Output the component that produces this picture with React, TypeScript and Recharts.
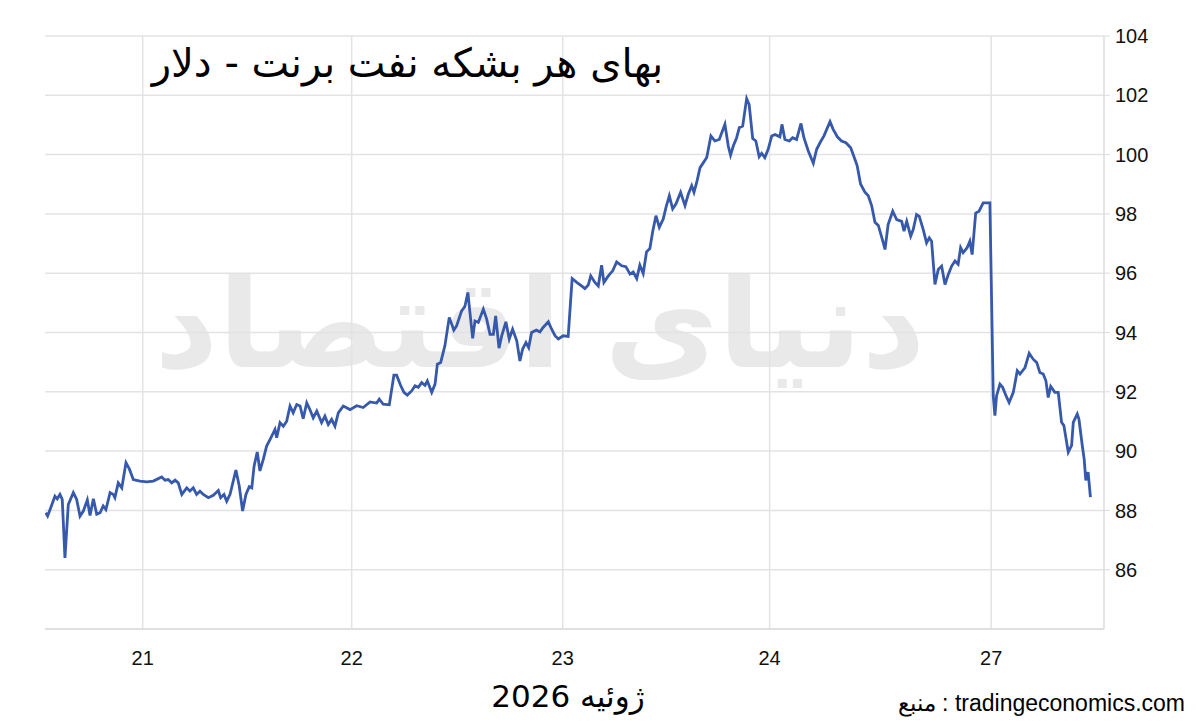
import React from 'react';
import { LineChart, Line, XAxis, YAxis, CartesianGrid, ReferenceLine } from 'recharts';

// time: trading-day position (0 = start of 21st), price: Brent USD/bbl
const time = [
  -0.464, -0.455, -0.44, -0.42, -0.409, -0.396, -0.385, -0.372, -0.356, -0.332, -0.316, -0.3, -0.284, -0.265,
  -0.252, -0.236, -0.22, -0.204, -0.189, -0.176, -0.156, -0.141, -0.133, -0.117, -0.1, -0.08, -0.064, -0.045,
  -0.013, 0.019, 0.051, 0.091, 0.107, 0.122, 0.139, 0.155, 0.17, 0.187, 0.211, 0.226, 0.242, 0.258, 0.274,
  0.29, 0.314, 0.338, 0.362, 0.373, 0.389, 0.402, 0.418, 0.446, 0.462, 0.478, 0.494, 0.51, 0.522, 0.533,
  0.548, 0.561, 0.577, 0.593, 0.609, 0.633, 0.641, 0.657, 0.673, 0.689, 0.705, 0.72, 0.737, 0.753, 0.768,
  0.785, 0.8, 0.816, 0.833, 0.856, 0.872, 0.888, 0.904, 0.92, 0.936, 0.96, 0.992,
  1.024, 1.055, 1.088, 1.12, 1.132, 1.151, 1.18, 1.202, 1.215, 1.234, 1.25, 1.266, 1.287, 1.303, 1.319,
  1.335, 1.351, 1.362, 1.383, 1.399, 1.41, 1.426, 1.446, 1.467, 1.489, 1.502, 1.526, 1.542, 1.556, 1.566,
  1.579, 1.59, 1.606, 1.63, 1.646, 1.662, 1.678, 1.689, 1.705, 1.718, 1.738, 1.754, 1.77, 1.79, 1.805,
  1.818, 1.834, 1.847, 1.861, 1.884, 1.901, 1.916, 1.941, 1.957, 1.973, 1.989,
  2.012, 2.036, 2.055, 2.077, 2.1, 2.116, 2.132, 2.144, 2.164, 2.18, 2.196, 2.207, 2.228, 2.249, 2.268,
  2.292, 2.312, 2.332, 2.347, 2.364, 2.379, 2.395, 2.411, 2.427, 2.44, 2.456, 2.472, 2.491, 2.504, 2.52,
  2.536, 2.552, 2.574, 2.595, 2.611, 2.627, 2.638, 2.651, 2.667, 2.683, 2.699, 2.719, 2.738, 2.759, 2.786,
  2.802, 2.813, 2.826, 2.842, 2.855, 2.871, 2.89, 2.902, 2.919, 2.934, 2.95, 2.962, 2.977, 2.993,
  3.01, 3.026, 3.049, 3.059, 3.073, 3.094, 3.11, 3.129, 3.15, 3.164, 3.185, 3.209, 3.225, 3.241, 3.26,
  3.289, 3.304, 3.324, 3.344, 3.365, 3.388, 3.408, 3.419, 3.435, 3.456, 3.472, 3.488, 3.504, 3.52, 3.544,
  3.552, 3.567, 3.589, 3.608, 3.632, 3.643, 3.656, 3.675, 3.687, 3.703, 3.716, 3.735, 3.751, 3.764, 3.775,
  3.791, 3.807, 3.823, 3.839, 3.855, 3.871, 3.887, 3.902, 3.914, 3.926, 3.945, 3.958, 3.969, 3.986,
  4.002, 4.022, 4.054, 4.07, 4.078, 4.086, 4.102, 4.115, 4.131, 4.146, 4.166, 4.185, 4.198, 4.222, 4.242,
  4.261, 4.278, 4.293, 4.309, 4.322, 4.333, 4.345, 4.365, 4.381, 4.397, 4.408, 4.429, 4.445, 4.453, 4.472,
  4.48, 4.496, 4.505, 4.513, 4.524, 4.535,
];

const price = [
  87.92, 87.81, 88.09, 88.48, 88.39, 88.54, 88.37, 86.4, 88.2, 88.6, 88.37, 87.81, 87.98, 88.35,
  87.83, 88.39, 87.87, 87.92, 88.15, 88.03, 88.6, 88.54, 88.43, 88.93, 88.76, 89.61, 89.4, 89.04,
  88.99, 88.96, 88.99, 89.13, 89.02, 89.04, 88.93, 89.02, 88.93, 88.54, 88.76, 88.65, 88.76, 88.54, 88.65,
  88.54, 88.43, 88.51, 88.67, 88.43, 88.54, 88.31, 88.54, 89.36, 88.82, 87.98, 88.54, 88.8, 88.76, 89.49,
  89.97, 89.33, 89.72, 90.17, 90.39, 90.73, 90.45, 90.96, 90.84, 91.01, 91.52, 91.29, 91.57, 91.52, 91.09,
  91.63, 91.4, 91.12, 91.35, 90.96, 91.18, 90.9, 91.07, 90.84, 91.29, 91.52, 91.4,
  91.53, 91.47, 91.66, 91.62, 91.75, 91.58, 91.56, 92.56, 92.56, 92.22, 91.98, 91.89, 92.03, 92.2, 92.15,
  92.31, 92.22, 92.37, 91.98, 92.26, 92.93, 92.99, 93.55, 94.51, 94.08, 94.22, 94.73, 94.88, 95.35, 94.67,
  93.8, 94.39, 94.34, 94.79, 94.45, 93.94, 93.94, 94.56, 93.47, 93.89, 94.36, 93.78, 94.11, 93.72, 93.04,
  93.44, 93.66, 93.49, 94.0, 94.08, 94.02, 94.17, 94.36, 94.11, 93.89, 93.78,
  93.89, 93.87, 95.82, 95.69, 95.57, 95.48, 95.6, 95.91, 95.69, 95.57, 96.27, 95.69, 95.91, 96.08, 96.38,
  96.25, 96.22, 95.97, 96.04, 95.82, 96.27, 95.99, 96.72, 96.83, 97.39, 97.94, 97.55, 97.83, 98.22, 98.61,
  98.17, 98.34, 98.73, 98.28, 98.67, 98.95, 98.73, 99.06, 99.56, 99.73, 99.9, 100.63, 100.46, 100.51, 101.02,
  100.29, 99.98, 100.29, 100.57, 100.91, 100.96, 101.89, 101.69, 100.54, 100.46, 99.93, 100.04, 99.9, 100.18,
  100.63, 100.68, 100.6, 101.02, 100.51, 100.46, 100.57, 100.51, 101.05, 100.57, 100.12, 99.71, 100.18, 100.4, 100.63,
  101.11, 100.85, 100.6, 100.46, 100.4, 100.23, 99.84, 99.62, 99.01, 98.73, 98.61, 98.28, 97.72, 97.61, 97.02,
  96.8, 97.64, 98.09, 97.81, 97.75, 97.42, 97.75, 97.25, 97.47, 97.98, 97.92, 97.47, 97.02, 97.19, 97.08,
  95.62, 96.13, 96.24, 95.62, 95.96, 96.24, 96.41, 96.3, 96.86, 96.69, 96.86, 97.08, 96.63, 98.03,
  98.09, 98.37, 98.37, 91.87, 91.2, 91.87, 92.26, 92.15, 91.87, 91.64, 91.98, 92.71, 92.6, 92.82, 93.3,
  93.1, 92.99, 92.65, 92.6, 92.37, 91.81, 92.18, 91.98, 91.98, 90.97, 90.86, 89.96, 90.19, 90.97, 91.25,
  91.08, 90.19, 89.74, 89.01, 89.29, 88.45,
];

const dayTicks = [0, 1, 2.01, 3, 4.06];
const dayLabels = ['21', '22', '23', '24', '27'];
const priceTicks = [86, 88, 90, 92, 94, 96, 98, 100, 102, 104];

const title = 'بهای هر بشکه نفت برنت - دلار';
const monthLabel = 'ژوئیه 2026';
const sourceLabel = 'منبع : tradingeconomics.com';
const watermark = 'دنیای اقتصاد';

const data = time.map((t, i) => ({ t, price: price[i] }));

const gridColor = '#e3e3e3';
const lineColor = '#3659ab';
const latin = '"Liberation Sans", Arial, sans-serif';
const arabic = '"DejaVu Sans", sans-serif';

export default function App() {
  return (
    <div style={{ position: 'absolute', left: 0, top: 0, width: 1200, height: 724, background: '#fff', overflow: 'hidden' }}>
      <div
        style={{
          position: 'absolute', left: 140, top: 250, width: 800, textAlign: 'center', direction: 'rtl',
          fontFamily: arabic, fontWeight: 'bold', fontSize: 124, color: '#e9e9e9', whiteSpace: 'nowrap', lineHeight: 1.2,
        }}
      >
        {watermark}
      </div>
      <div style={{ position: 'absolute', left: 0, top: 0 }}>
        <LineChart width={1200} height={724} data={data} margin={{ top: 36, right: 10, bottom: 55, left: 45 }}>
          <CartesianGrid stroke={gridColor} strokeWidth={1.5} vertical={false} horizontal />
          {dayTicks.map((d) => (
            <ReferenceLine key={d} x={d} stroke={gridColor} strokeWidth={1.5} />
          ))}
          <XAxis
            dataKey="t"
            type="number"
            domain={[-0.4675, 4.6]}
            ticks={dayTicks}
            tickFormatter={(v: number) => dayLabels[dayTicks.indexOf(v)] ?? ''}
            height={40}
            axisLine={{ stroke: '#dcdcdc', strokeWidth: 1.5 }}
            tickLine={false}
            tickMargin={16}
            tick={{ fill: '#111', fontSize: 20, fontFamily: latin }}
            allowDataOverflow
          />
          <YAxis
            orientation="right"
            type="number"
            domain={[84, 104]}
            ticks={priceTicks}
            width={86}
            axisLine={{ stroke: '#dcdcdc', strokeWidth: 1.5 }}
            tickLine={{ stroke: '#dcdcdc' }}
            tickSize={6}
            tickMargin={5}
            tick={{ fill: '#111', fontSize: 20, fontFamily: latin, textAnchor: 'start' }}
            allowDataOverflow
          />
          <Line
            type="linear"
            dataKey="price"
            stroke={lineColor}
            strokeWidth={2.8}
            dot={false}
            isAnimationActive={false}
          />
        </LineChart>
      </div>
      <div
        style={{
          position: 'absolute', left: 130, top: 40, width: 555, textAlign: 'center', direction: 'rtl',
          fontFamily: arabic, fontSize: 40, color: '#000', whiteSpace: 'nowrap',
        }}
      >
        {title}
      </div>
      <div
        style={{
          position: 'absolute', left: 418, top: 678, width: 300, textAlign: 'center', direction: 'rtl',
          fontFamily: arabic, fontSize: 31, color: '#000', whiteSpace: 'nowrap',
        }}
      >
        {monthLabel}
      </div>
      <div
        style={{
          position: 'absolute', left: 745, top: 690, width: 440, textAlign: 'right',
          fontFamily: latin, fontSize: 23, color: '#000', whiteSpace: 'nowrap',
        }}
      >
        {sourceLabel}
      </div>
    </div>
  );
}
